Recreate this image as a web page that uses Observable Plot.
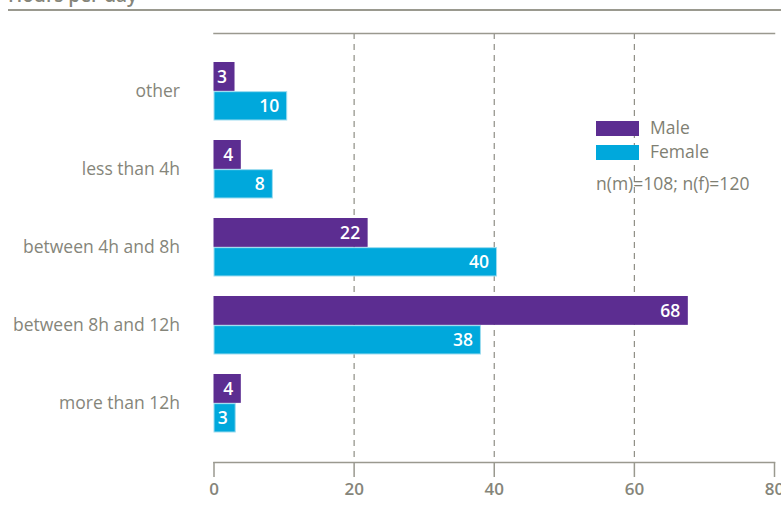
<!DOCTYPE html>
<html>
<head>
<meta charset="utf-8">
<script src="https://cdn.jsdelivr.net/npm/d3@7"></script>
<script src="https://cdn.jsdelivr.net/npm/@observablehq/plot@0.6"></script>
<style>
  body { margin: 0; background: #fff; font-family: "Open Sans", sans-serif; }
  #wrap { position: relative; width: 781px; height: 521px; overflow: hidden; }
  #title { position: absolute; left: 8px; top: -18px; font-size: 19px; font-weight: 600; color: #85857a; }
  #titleline { position: absolute; left: 8px; right: 0; top: 9px; height: 1.5px; background: #9a998f; }
  #chart { position: absolute; left: 0; top: 0; }
  .leg { position: absolute; font-size: 17.5px; color: #7f7f73; line-height: 1; }
  .sw { position: absolute; width: 43px; height: 15px; }
</style>
</head>
<body>
<div id="wrap">
  <div id="title">Hours per day</div>
  <div id="titleline"></div>
  <div id="chart"></div>
  <div class="sw" style="left:596px;top:121px;background:#5c2d91"></div>
  <div class="sw" style="left:596px;top:145px;background:#00a8dc"></div>
  <div class="leg" style="left:650px;top:119px">Male</div>
  <div class="leg" style="left:650px;top:143px">Female</div>
  <div class="leg" style="left:596px;top:175px">n(m)=108; n(f)=120</div>
</div>
<script>
const categories = ["other", "less than 4h", "between 4h and 8h", "between 8h and 12h", "more than 12h"];
const maleValues = [3, 3.9, 22, 67.7, 3.9];
const femaleValues = [10.45, 8.4, 40.4, 38.1, 3.1];
const xTicks = [0, 20, 40, 60, 80];

const data = [];
categories.forEach((c, i) => {
  data.push({category: c, sex: "Male", value: maleValues[i]});
  data.push({category: c, sex: "Female", value: femaleValues[i]});
});
const male = data.filter(d => d.sex === "Male");
const female = data.filter(d => d.sex === "Female");

const gray = "#85857a";
const half = 29.15;

const chart = Plot.plot({
  width: 781,
  height: 521,
  marginTop: 33,
  marginBottom: 59,
  marginLeft: 213.5,
  marginRight: 7,
  style: {fontFamily: "Open Sans, sans-serif", fontSize: "17.5px", color: gray, background: "transparent"},
  x: {domain: [0, 80], ticks: xTicks},
  y: {domain: categories, paddingInner: 0.255, paddingOuter: 0.37},
  marks: [
    Plot.gridX(xTicks.slice(1, 4), {stroke: "#8f8e85", strokeOpacity: 1, strokeDasharray: "6,5", strokeWidth: 1.2}),
    Plot.frame({anchor: "top", stroke: "#9a998f", strokeWidth: 1.5}),
    Plot.frame({anchor: "bottom", stroke: "#9a998f", strokeWidth: 1.5}),
    Plot.barX(male, {x: "value", y: "category", fill: "#5c2d91", insetBottom: half}),
    Plot.barX(female, {x: "value", y: "category", fill: "#00a8dc", stroke: "#9edcef", strokeWidth: 1, insetTop: half + 0.5, insetLeft: 0.5}),
    Plot.text(male, {x: "value", y: "category", text: d => Math.round(d.value), textAnchor: "end", dx: -8, dy: -half / 2, fill: "white", fontSize: 17.5, fontWeight: 600}),
    Plot.text(female, {x: "value", y: "category", text: d => Math.round(d.value), textAnchor: "end", dx: -8, dy: half / 2, fill: "white", fontSize: 17.5, fontWeight: 600}),
    Plot.axisX({ticks: xTicks, tickSize: 15, tickPadding: 5, stroke: "#9a998f", strokeWidth: 1.5, fill: gray, fontSize: 17, fontWeight: 600, label: null}),
    Plot.axisY({tickSize: 0, tickPadding: 34, fill: gray, fontSize: 17.5, label: null})
  ]
});
document.getElementById("chart").appendChild(chart);
</script>
</body>
</html>
